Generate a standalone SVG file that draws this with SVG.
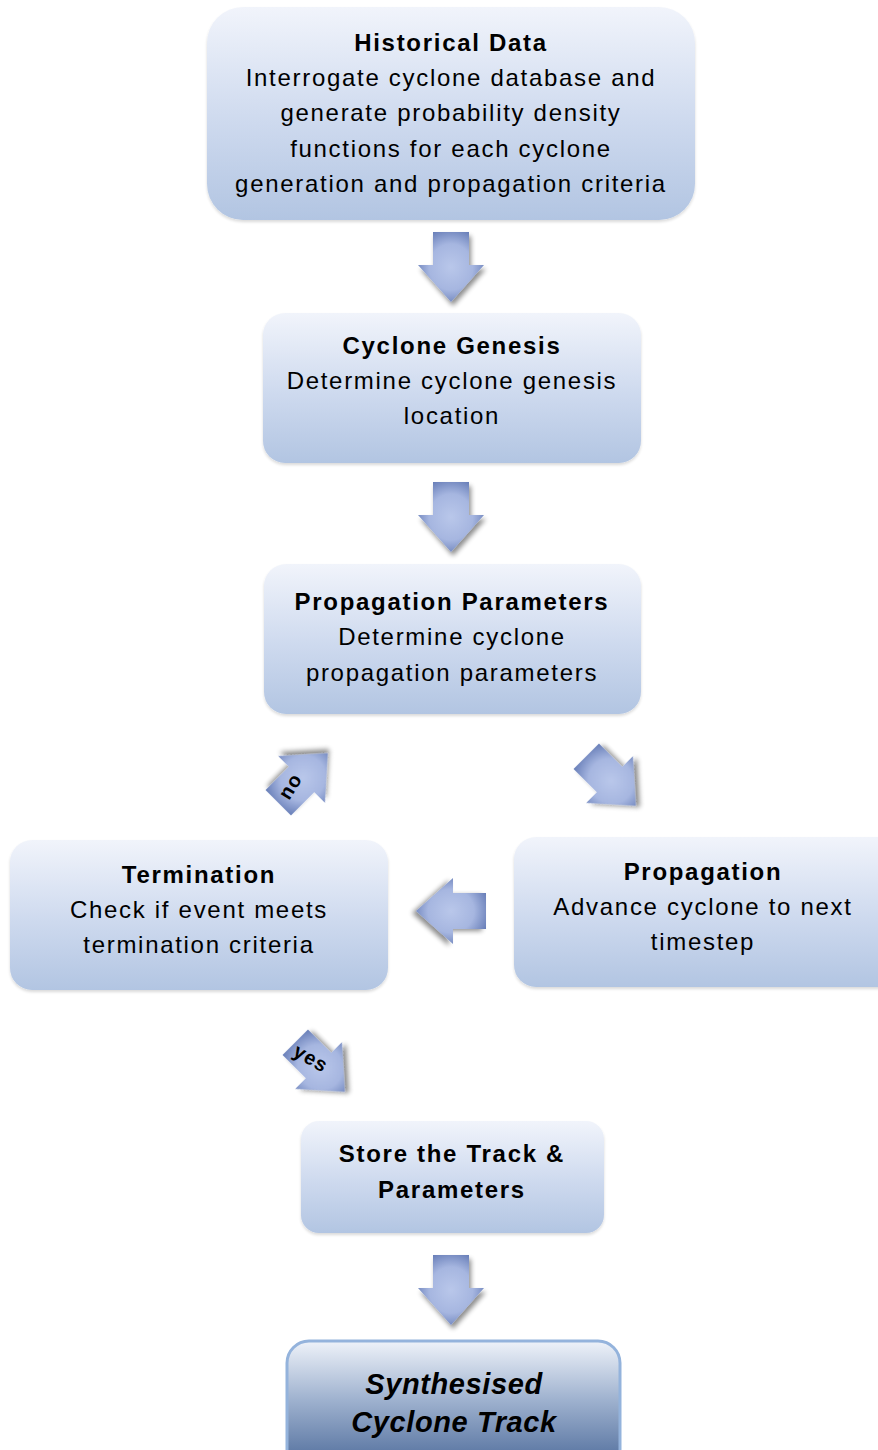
<svg xmlns="http://www.w3.org/2000/svg" width="878" height="1450" viewBox="0 0 878 1450">
<defs>
<linearGradient id="boxg" x1="0" y1="0" x2="0" y2="1">
<stop offset="0" stop-color="#f1f4fb"/>
<stop offset="0.55" stop-color="#cdd9ee"/>
<stop offset="1" stop-color="#b2c5e2"/>
</linearGradient>
<linearGradient id="darkg" x1="0" y1="0" x2="0" y2="1">
<stop offset="0" stop-color="#eef2f9"/>
<stop offset="0.45" stop-color="#9fb2cf"/>
<stop offset="1" stop-color="#4a6898"/>
</linearGradient>
<radialGradient id="arrg" cx="0.5" cy="0.5" r="0.6">
<stop offset="0" stop-color="#b9c7ea"/>
<stop offset="0.55" stop-color="#a6b6e0"/>
<stop offset="1" stop-color="#5f76b2"/>
</radialGradient>
<filter id="sh" x="-30%" y="-30%" width="160%" height="160%">
<feGaussianBlur in="SourceAlpha" stdDeviation="2.5"/>
<feOffset dx="2" dy="4" result="b"/>
<feComponentTransfer><feFuncA type="linear" slope="0.45"/></feComponentTransfer>
<feMerge><feMergeNode/><feMergeNode in="SourceGraphic"/></feMerge>
</filter>
<filter id="bsh" x="-10%" y="-10%" width="120%" height="130%">
<feGaussianBlur in="SourceAlpha" stdDeviation="1.5"/>
<feOffset dx="0" dy="2"/>
<feComponentTransfer><feFuncA type="linear" slope="0.15"/></feComponentTransfer>
<feMerge><feMergeNode/><feMergeNode in="SourceGraphic"/></feMerge>
</filter>
<path id="arr" d="M -18,-35 L 18,-35 L 18,-2 L 33,-2 L 0,35 L -33,-2 L -18,-2 Z"/>
</defs>
<style>
.box{fill:url(#boxg);filter:url(#bsh)}
.t{font-family:"Liberation Sans",Arial,Helvetica,sans-serif;font-size:24px;letter-spacing:1.7px;fill:#000;text-anchor:middle}
.b{font-weight:bold}
.big{font-size:29px;font-style:italic;letter-spacing:0.6px}
.a{fill:url(#arrg);filter:url(#sh)}
.lab{font-family:"Liberation Sans",Arial,sans-serif;font-size:20px;font-weight:bold;letter-spacing:1px;fill:#000;text-anchor:middle}
</style>
<rect width="878" height="1450" fill="#ffffff"/>

<g id="connectors">
<use href="#arr" class="a" transform="translate(451,267)"/>
<use href="#arr" class="a" transform="translate(451,517)"/>
<use href="#arr" class="a" transform="translate(451,1290)"/>
<use href="#arr" class="a" transform="translate(451,911) rotate(90)"/>
<use href="#arr" class="a" transform="translate(611,781) rotate(-45)"/>
<g transform="translate(303,778)">
<use href="#arr" class="a" transform="rotate(-135)"/>
<text class="lab" transform="translate(-13,8) rotate(-58)" x="0" y="7">no</text>
</g>
<g transform="translate(320,1067)">
<use href="#arr" class="a" transform="rotate(-45)"/>
<text class="lab" transform="translate(-9,-9) rotate(30)" x="0" y="7">yes</text>
</g>
</g>

<g id="historical">
<rect class="box" x="207" y="7" width="488" height="213" rx="36"/>
<text class="t b" x="451" y="51">Historical Data</text>
<text class="t" x="451" y="86">Interrogate cyclone database and</text>
<text class="t" x="451" y="121">generate probability density</text>
<text class="t" x="451" y="157">functions for each cyclone</text>
<text class="t" x="451" y="192">generation and propagation criteria</text>
</g>

<g id="genesis">
<rect class="box" x="263" y="313" width="378" height="150" rx="22"/>
<text class="t b" x="452" y="354">Cyclone Genesis</text>
<text class="t" x="452" y="389">Determine cyclone genesis</text>
<text class="t" x="452" y="424">location</text>
</g>

<g id="propparams">
<rect class="box" x="264" y="564" width="377" height="150" rx="22"/>
<text class="t b" x="452" y="610">Propagation Parameters</text>
<text class="t" x="452" y="645">Determine cyclone</text>
<text class="t" x="452" y="681">propagation parameters</text>
</g>

<g id="termination">
<rect class="box" x="10" y="840" width="378" height="150" rx="22"/>
<text class="t b" x="199" y="883">Termination</text>
<text class="t" x="199" y="918">Check if event meets</text>
<text class="t" x="199" y="953">termination criteria</text>
</g>

<g id="propagation">
<rect class="box" x="514" y="837" width="390" height="150" rx="22"/>
<text class="t b" x="703" y="880">Propagation</text>
<text class="t" x="703" y="915">Advance cyclone to next</text>
<text class="t" x="703" y="950">timestep</text>
</g>

<g id="store">
<rect class="box" x="301" y="1121" width="303" height="112" rx="18"/>
<text class="t b" x="452" y="1162">Store the Track &amp;</text>
<text class="t b" x="452" y="1198">Parameters</text>
</g>

<g id="synthesised">
<rect x="287" y="1341" width="333" height="130" rx="22" fill="url(#darkg)" stroke="#94b3dc" stroke-width="3"/>
<text class="t b big" x="454" y="1394">Synthesised</text>
<text class="t b big" x="454" y="1432">Cyclone Track</text>
</g>
</svg>
